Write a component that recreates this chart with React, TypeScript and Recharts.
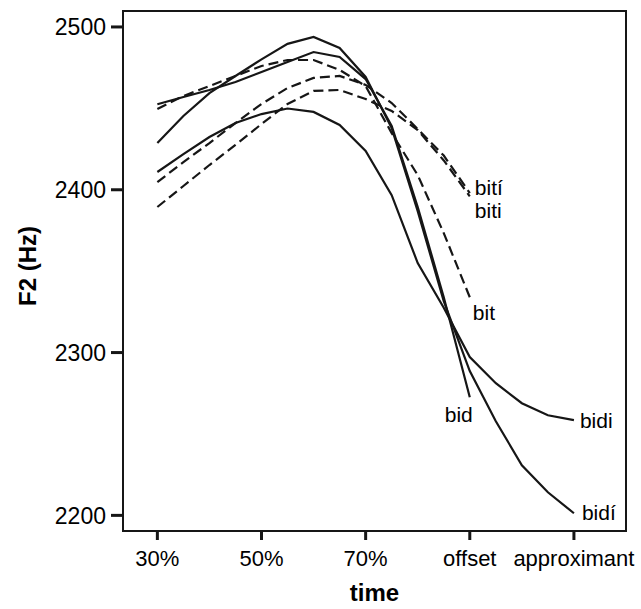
import { LineChart, Line, XAxis, YAxis, ReferenceArea } from "recharts";

// time axis: category positions 0..4
const TIME_TICKS = [0, 1, 2, 3, 4];
const TIME_LABELS = ["30%", "50%", "70%", "offset", "approximant"];
const SAMPLE_POS = [0, 0.25, 0.5, 0.75, 1, 1.25, 1.5, 1.75, 2, 2.25, 2.5, 2.75, 3, 3.25, 3.5, 3.75, 4];

const F2_TICKS = [2200, 2300, 2400, 2500];

// F2 (Hz)
const BIDI = [2410.9, 2421.9, 2432.4, 2441.0, 2446.5, 2449.9, 2447.8, 2439.8, 2423.8, 2396.7, 2355.0, 2327.5, 2297.2, 2281.2, 2268.9, 2261.5, 2258.5];
const BIDI_ACC = [2428.7, 2445.3, 2459.4, 2469.9, 2480.1, 2489.6, 2493.9, 2487.1, 2469.3, 2437.9, 2386.9, 2331.6, 2288.6, 2257.8, 2230.8, 2214.2, 2201.3];
const BID = [2452.5, 2457.0, 2461.3, 2466.2, 2472.3, 2478.5, 2484.6, 2481.6, 2468.0, 2439.2, 2389.4, 2334.0, 2272.6, null, null, null, null];
const BIT = [2449.6, 2457.6, 2463.7, 2469.9, 2476.0, 2479.7, 2479.7, 2473.6, 2463.7, 2434.8, 2409.0, 2373.4, 2334.0, null, null, null, null];
const BITI_ACC = [2404.7, 2417.0, 2428.7, 2441.0, 2452.7, 2462.5, 2468.7, 2469.9, 2464.4, 2453.3, 2437.3, 2421.0, 2398.0, null, null, null, null];
const BITI = [2389.4, 2402.3, 2415.2, 2427.5, 2440.4, 2452.7, 2460.7, 2461.3, 2455.7, 2448.4, 2436.7, 2418.0, 2396.0, null, null, null, null];

const X_MIN = -0.33;
const X_MAX = 4.5;
const Y_MIN = 2190.4;
const Y_MAX = 2509.8;

const rows = SAMPLE_POS.map((t, i) => ({
  t,
  bidi: BIDI[i],
  bidiAcc: BIDI_ACC[i],
  bid: BID[i],
  bit: BIT[i],
  bitiAcc: BITI_ACC[i],
  biti: BITI[i],
}));

const FONT = '"Liberation Sans", Arial, sans-serif';
const INK = "#161616";

function endLabel(text: string, last: number, dx: number, dy: number, anchor = "start") {
  return (props: any) => {
    if (props.index !== last) return null;
    const x = props.viewBox?.x ?? props.x;
    const y = props.viewBox?.y ?? props.y;
    if (x == null || y == null) return null;
    return (
      <text x={x + dx} y={y + dy} textAnchor={anchor} fontSize={21} fill="#000" fontFamily={FONT}>
        {text}
      </text>
    );
  };
}

const lineProps = {
  type: "linear" as const,
  stroke: INK,
  strokeWidth: 2.2,
  dot: false,
  activeDot: false,
  isAnimationActive: false,
};

export default function App() {
  return (
    <div style={{ position: "absolute", left: 0, top: 0, width: 641, height: 609, background: "#fff", fontFamily: FONT }}>
      <LineChart width={641} height={609} data={rows} margin={{ top: 11, right: 15, bottom: 8, left: 0 }}>
        <XAxis
          dataKey="t"
          type="number"
          domain={[X_MIN, X_MAX]}
          ticks={TIME_TICKS}
          tickFormatter={(v) => TIME_LABELS[v]}
          allowDataOverflow
          height={70}
          tickSize={9}
          tickMargin={10}
          axisLine={false}
          tickLine={{ stroke: INK, strokeWidth: 3 }}
          tick={{ fill: "#000", fontSize: 22, fontFamily: FONT }}
          label={{ value: "time", position: "insideBottom", offset: 0, fontSize: 24, fontWeight: "bold", fill: "#000", fontFamily: FONT }}
        />
        <YAxis
          type="number"
          domain={[Y_MIN, Y_MAX]}
          ticks={F2_TICKS}
          allowDataOverflow
          width={123}
          tickSize={12}
          tickMargin={5}
          axisLine={false}
          tickLine={{ stroke: INK, strokeWidth: 3 }}
          tick={{ fill: "#000", fontSize: 23, fontFamily: FONT }}
          label={{
            value: "F2 (Hz)",
            content: (p: any) => {
              const cy = p.viewBox.y + p.viewBox.height / 2 - 5;
              return (
                <text x={27} y={cy} transform={`rotate(-90, 27, ${cy})`} textAnchor="middle" dominantBaseline="central" fontSize={24} fontWeight="bold" fill="#000" fontFamily={FONT}>
                  F2 (Hz)
                </text>
              );
            },
          }}
        />
        <ReferenceArea x1={X_MIN} x2={X_MAX} y1={Y_MIN} y2={Y_MAX} fill="none" stroke={INK} strokeWidth={2} ifOverflow="visible" />
        <Line {...lineProps} dataKey="bitiAcc" strokeDasharray="10 5" label={endLabel("bití", 12, 5, 2)} />
        <Line {...lineProps} dataKey="biti" strokeDasharray="10 5" label={endLabel("biti", 12, 5, 22)} />
        <Line {...lineProps} dataKey="bit" strokeDasharray="10 5" label={endLabel("bit", 12, 3, 23)} />
        <Line {...lineProps} dataKey="bid" label={endLabel("bid", 12, -11, 25, "middle")} />
        <Line {...lineProps} dataKey="bidi" label={endLabel("bidi", 16, 6, 8)} />
        <Line {...lineProps} dataKey="bidiAcc" label={endLabel("bidí", 16, 8, 7)} />
      </LineChart>
    </div>
  );
}
